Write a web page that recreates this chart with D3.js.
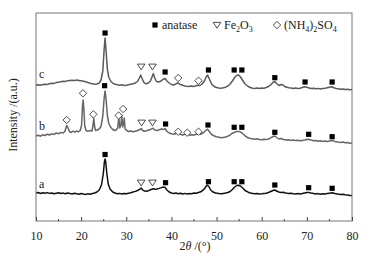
<!DOCTYPE html>
<html>
<head>
<meta charset="utf-8">
<script src="https://cdn.jsdelivr.net/npm/d3@7"></script>
<style>
  body { margin: 0; background: #fff; }
  text { font-family: "Liberation Serif", "Times New Roman", serif; }
</style>
</head>
<body>
<div class="chart"></div>
<script>
// XRD patterns, [2theta, intensity] as plotted (stacked, a.u.)
var patternA = [[10,280],[10.5,285],[11,275],[11.5,282],[12,278],[12.5,284],[13,276],[13.5,280],[14,272],[14.5,278],[15,283],[15.5,275],[16,279],[16.5,272],[17,280],[17.5,276],[18,270],[18.5,277],[19,272],[19.5,268],[20,275],[20.5,270],[21,266],[21.5,272],[22,268],[22.5,275],[23,280],[23.5,290],[24,310],[24.5,360],[24.9,470],[25.15,590],[25.3,620],[25.45,590],[25.7,470],[26,370],[26.4,320],[27,290],[27.5,280],[28,272],[28.5,276],[29,270],[29.5,275],[30,272],[30.5,278],[31,283],[31.5,290],[32,296],[32.5,305],[33,318],[33.3,330],[33.6,312],[34,300],[34.5,298],[35,305],[35.5,315],[36,322],[36.4,318],[36.8,320],[37.3,326],[37.8,334],[38.2,340],[38.6,336],[39,310],[39.5,290],[40,280],[40.5,276],[41,280],[41.5,272],[42,278],[42.5,270],[43,276],[43.5,270],[44,275],[44.5,272],[45,280],[45.5,278],[46,285],[46.5,292],[47,308],[47.5,335],[47.9,360],[48.3,345],[48.7,310],[49.2,290],[49.8,280],[50.5,275],[51,272],[51.5,276],[52,280],[52.5,285],[53,295],[53.5,315],[54,340],[54.5,355],[54.9,358],[55.3,350],[55.8,330],[56.3,305],[57,288],[57.5,280],[58,276],[58.5,272],[59,275],[59.5,270],[60,272],[60.5,275],[61,278],[61.5,285],[62,295],[62.5,305],[62.9,310],[63.3,300],[63.8,290],[64.3,285],[64.8,288],[65.3,280],[66,275],[66.5,278],[67,272],[67.5,270],[68,274],[68.5,270],[69,275],[69.5,280],[70,285],[70.4,286],[70.9,280],[71.5,275],[72,270],[72.5,274],[73,268],[73.5,272],[74,270],[74.5,275],[75,278],[75.6,282],[76.2,275],[76.8,270],[77.5,265],[78,268],[78.5,262],[79,260],[79.5,255],[80,255]];

var patternB = [[10,850],[10.5,858],[11,848],[11.5,862],[12,855],[12.5,868],[13,860],[13.5,872],[14,866],[14.5,880],[15,872],[15.5,886],[16,880],[16.4,895],[16.8,955],[17.1,930],[17.4,895],[17.8,885],[18.2,898],[18.6,888],[19,900],[19.4,892],[19.8,905],[20.1,960],[20.3,1150],[20.45,1210],[20.6,1120],[20.8,950],[21.1,905],[21.5,896],[22,905],[22.4,900],[22.6,950],[22.8,1025],[23,940],[23.2,905],[23.6,910],[24,920],[24.4,945],[24.8,1050],[25.1,1230],[25.3,1300],[25.5,1230],[25.8,1060],[26.1,980],[26.5,940],[27,915],[27.4,905],[27.8,912],[28.1,930],[28.35,1040],[28.55,930],[28.8,960],[29,1060],[29.2,940],[29.4,970],[29.55,1030],[29.75,920],[30.1,905],[30.5,895],[31,900],[31.5,892],[32,898],[32.5,905],[33,915],[33.3,925],[33.6,905],[34,898],[34.5,902],[35,910],[35.5,918],[35.9,928],[36.3,910],[36.8,905],[37.3,912],[37.8,920],[38.3,915],[38.6,925],[39,895],[39.5,880],[40,872],[40.5,868],[41,875],[41.5,885],[42,868],[42.5,860],[43,866],[43.5,872],[44,858],[44.5,862],[45,860],[45.5,868],[46,878],[46.5,868],[47,880],[47.6,905],[48,918],[48.4,895],[48.9,865],[49.5,850],[50,842],[50.5,838],[51,832],[51.5,836],[52,840],[52.5,848],[53,860],[53.5,878],[54,888],[54.5,896],[55,894],[55.5,885],[56,865],[56.5,845],[57,832],[57.5,825],[58,822],[58.5,818],[59,822],[59.5,815],[60,812],[60.5,818],[61,814],[61.5,820],[62,832],[62.5,845],[62.9,850],[63.3,835],[63.8,820],[64.3,825],[64.8,815],[65.5,810],[66,812],[66.5,806],[67,810],[67.5,804],[68,808],[68.5,802],[69,806],[69.5,810],[70,815],[70.4,818],[70.9,810],[71.5,802],[72,805],[72.5,798],[73,802],[73.5,796],[74,800],[74.5,795],[75,800],[75.6,805],[76.2,796],[76.8,790],[77.5,786],[78,790],[78.5,782],[79,785],[79.5,778],[80,780]];

var patternC = [[10,1360],[10.5,1362],[11,1358],[11.5,1365],[12,1368],[12.5,1366],[13,1372],[13.5,1378],[14,1376],[14.5,1384],[15,1388],[15.5,1392],[16,1398],[16.5,1396],[17,1402],[17.5,1405],[18,1408],[18.5,1404],[19,1410],[19.5,1406],[20,1402],[20.5,1398],[21,1392],[21.5,1385],[22,1378],[22.5,1372],[23,1368],[23.5,1370],[24,1380],[24.4,1410],[24.8,1500],[25.1,1720],[25.3,1830],[25.5,1720],[25.8,1520],[26.1,1440],[26.6,1395],[27.2,1372],[27.8,1365],[28.5,1358],[29,1362],[29.5,1355],[30,1358],[30.5,1362],[31,1368],[31.5,1372],[32,1380],[32.5,1395],[32.9,1430],[33.2,1460],[33.5,1425],[33.9,1385],[34.3,1372],[34.8,1378],[35.3,1395],[35.7,1440],[36,1475],[36.3,1430],[36.7,1395],[37.2,1390],[37.7,1400],[38.2,1418],[38.6,1425],[39,1400],[39.5,1380],[40,1365],[40.5,1360],[41,1372],[41.4,1382],[41.8,1368],[42.3,1360],[42.8,1352],[43.3,1348],[43.8,1345],[44.3,1350],[44.8,1345],[45.3,1350],[45.8,1358],[46.3,1355],[46.8,1370],[47.3,1400],[47.7,1440],[48,1460],[48.4,1420],[48.9,1370],[49.5,1345],[50,1335],[50.5,1330],[51,1328],[51.5,1332],[52,1338],[52.5,1350],[53,1370],[53.5,1400],[54,1435],[54.5,1458],[54.9,1460],[55.3,1440],[55.8,1405],[56.3,1370],[57,1345],[57.5,1335],[58,1328],[58.5,1326],[59,1330],[59.5,1325],[60,1330],[60.5,1328],[61,1335],[61.5,1345],[62,1362],[62.5,1385],[62.9,1395],[63.3,1375],[63.8,1355],[64.3,1365],[64.7,1360],[65.2,1342],[66,1332],[66.5,1330],[67,1326],[67.5,1330],[68,1325],[68.5,1328],[69,1335],[69.5,1342],[70,1338],[70.5,1330],[71,1325],[71.5,1328],[72,1322],[72.5,1326],[73,1320],[73.5,1325],[74,1328],[74.5,1332],[75,1338],[75.5,1342],[76,1332],[76.5,1325],[77,1322],[77.5,1318],[78,1320],[78.5,1315],[79,1318],[79.5,1312],[80,1315]];

// phase markers [2theta, intensity, phase]  s = anatase, t = Fe2O3, d = (NH4)2SO4
var markersA = [[25.3,665,"s"],[33.3,383,"t"],[35.8,383,"t"],[38.7,383,"s"],[48.2,393,"s"],[53.9,393,"s"],[55.6,393,"s"],[62.9,360,"s"],[70.4,333,"s"],[75.6,327,"s"]];
var markersB = [[16.8,1010,"d"],[20.4,1277,"d"],[22.7,1067,"d"],[25.2,1353,"s"],[28.3,1055,"d"],[29.3,1120,"d"],[33.4,983,"t"],[35.8,983,"t"],[38.7,970,"s"],[41.5,893,"d"],[43.5,883,"d"],[46.0,893,"d"],[48.1,960,"s"],[53.9,937,"s"],[55.6,937,"s"],[62.9,887,"s"],[70.4,867,"s"],[75.6,843,"s"]];
var markersC = [[25.3,1880,"s"],[33.3,1543,"t"],[35.8,1543,"t"],[38.6,1490,"s"],[41.5,1430,"d"],[46.0,1403,"d"],[48.2,1510,"s"],[53.9,1510,"s"],[55.6,1510,"s"],[62.9,1433,"s"],[69.6,1390,"s"],[75.6,1390,"s"]];

var sampleLabels = [["a",310],["b",890],["c",1410]];
var xTicks = [10,20,30,40,50,60,70,80];
var xMinorTicks = [15,25,35,45,55,65,75];

var width = 376, height = 259;
var margin = {top: 13, right: 24, bottom: 38, left: 36};

var svg = d3.select(".chart").append("svg")
    .attr("width", width)
    .attr("height", height);

var x = d3.scaleLinear().domain([10, 80]).range([margin.left, width - margin.right]);
var y = d3.scaleLinear().domain([0, 2080]).range([height - margin.bottom, margin.top]);

var line = d3.line()
    .x(function(d){ return x(d[0]); })
    .y(function(d){ return y(d[1]); });

//patterns
var series = [[patternA, "#111"], [patternB, "#666"], [patternC, "#5a5a5a"]];
series.forEach(function(s){
    svg.append("path")
        .datum(s[0])
        .attr("d", line)
        .attr("fill", "none")
        .attr("stroke", s[1])
        .attr("stroke-width", 1.5)
        .attr("stroke-linejoin", "round");
});

//markers
function drawMarker(g, type, cx, cy){
    if (type == "s") {
        g.append("rect").attr("x", cx - 2.6).attr("y", cy - 2.6)
            .attr("width", 5.2).attr("height", 5.2).attr("fill", "#000");
    } else if (type == "t") {
        g.append("path")
            .attr("d", "M" + (cx - 3.8) + "," + (cy - 2.6) + "L" + (cx + 3.8) + "," + (cy - 2.6) + "L" + cx + "," + (cy + 3.2) + "Z")
            .attr("fill", "#fff").attr("stroke", "#222").attr("stroke-width", 0.8);
    } else {
        g.append("path")
            .attr("d", "M" + cx + "," + (cy - 3.7) + "L" + (cx + 3.7) + "," + cy + "L" + cx + "," + (cy + 3.7) + "L" + (cx - 3.7) + "," + cy + "Z")
            .attr("fill", "#fff").attr("stroke", "#222").attr("stroke-width", 0.8);
    }
}

var markerG = svg.append("g").attr("class", "markers");
markersA.concat(markersB, markersC).forEach(function(m){
    drawMarker(markerG, m[2], x(m[0]), y(m[1]));
});

//sample letters
svg.selectAll(".sample")
    .data(sampleLabels)
    .enter()
    .append("text")
    .attr("class", "sample")
    .attr("x", margin.left + 3)
    .attr("y", function(d){ return y(d[1]) - 2; })
    .attr("font-size", 12)
    .attr("fill", "#222")
    .text(function(d){ return d[0]; });

//frame
svg.append("rect")
    .attr("x", margin.left).attr("y", margin.top)
    .attr("width", width - margin.left - margin.right)
    .attr("height", height - margin.top - margin.bottom)
    .attr("fill", "none").attr("stroke", "#777").attr("stroke-width", 1);

//bottom axis, ticks inside
var xAxis = svg.append("g")
    .attr("transform", "translate(0," + (height - margin.bottom) + ")")
    .call(d3.axisBottom(x).tickValues(xTicks).tickSizeInner(-4).tickSizeOuter(0).tickPadding(10));
xAxis.select(".domain").remove();
xAxis.selectAll(".tick line").attr("stroke", "#444");
xAxis.selectAll(".tick text")
    .attr("font-family", "Liberation Serif, serif")
    .attr("font-size", 12)
    .attr("fill", "#222");

svg.append("g")
    .selectAll("line")
    .data(xMinorTicks)
    .enter()
    .append("line")
    .attr("x1", function(d){ return x(d); })
    .attr("x2", function(d){ return x(d); })
    .attr("y1", height - margin.bottom)
    .attr("y2", height - margin.bottom - 2)
    .attr("stroke", "#444");

//axis titles
var xTitle = svg.append("text")
    .attr("x", 195).attr("y", 250)
    .attr("text-anchor", "middle")
    .attr("font-size", 12)
    .attr("fill", "#222");
xTitle.append("tspan").text("2");
xTitle.append("tspan").attr("font-style", "italic").text("θ");
xTitle.append("tspan").text(" /(°)");

svg.append("text")
    .attr("transform", "translate(17,115) rotate(-90)")
    .attr("text-anchor", "middle")
    .attr("font-size", 12)
    .attr("fill", "#222")
    .text("Intensity /(a.u.)");

//legend
var legend = svg.append("g").attr("class", "legend");
var legendItems = [["s", 155, ["anatase"]], ["t", 217, ["Fe", "2", "O", "3"]], ["d", 277, ["(NH", "4", ")", "2", "SO", "4"]]];
legendItems.forEach(function(item){
    drawMarker(legend, item[0], item[1], 25);
    var t = legend.append("text")
        .attr("x", item[1] + 7).attr("y", 29)
        .attr("font-size", 12)
        .attr("fill", "#222");
    item[2].forEach(function(part, i){
        if (i % 2 == 1) {
            t.append("tspan").attr("font-size", 8).attr("dy", 3).text(part);
        } else {
            t.append("tspan").attr("dy", i == 0 ? 0 : -3).text(part);
        }
    });
});
</script>
</body>
</html>
